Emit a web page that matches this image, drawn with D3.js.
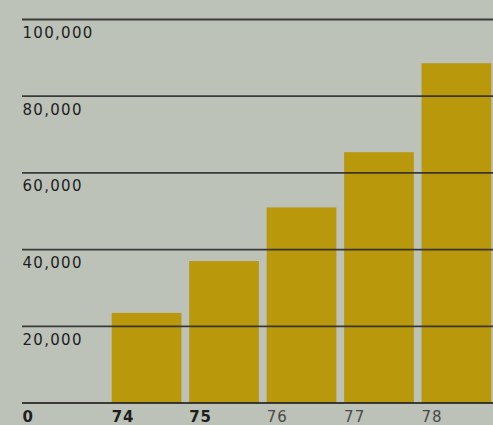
<!DOCTYPE html>
<html><head><meta charset="utf-8">
<script src="https://cdn.jsdelivr.net/npm/d3@7"></script>
<style>html,body{margin:0;padding:0;background:#bcc2b8;}svg{display:block;}</style>
</head><body>
<svg id="c" width="493" height="425"></svg>
<script>
const years = ["74","75","76","77","78"];
const values = [23500, 37000, 51000, 65400, 88600];
const yTicks = [0, 20000, 40000, 60000, 80000, 100000];
const yTickLabels = ["0","20,000","40,000","60,000","80,000","100,000"];
const yearLabelStyle = ["bold","bold","normal","normal","normal"];

const W = 493, H = 425;
const svg = d3.select("#c");
svg.append("rect").attr("width", W).attr("height", H).attr("fill", "#bcc2b8");

const y = d3.scaleLinear().domain([0, 100000]).range([403, 19.5]);
const x = d3.scaleBand().domain(years).range([111.7, 491.3]).paddingInner(0.1).paddingOuter(0);

svg.selectAll("rect.bar").data(values).enter().append("rect")
  .attr("class","bar")
  .attr("x", (d,i) => x(years[i]))
  .attr("width", x.bandwidth())
  .attr("y", d => y(d))
  .attr("height", d => y(0) - y(d))
  .attr("fill", "#b9980b");

svg.selectAll("line.grid").data(yTicks).enter().append("line")
  .attr("class","grid")
  .attr("x1", 22).attr("x2", W)
  .attr("y1", d => y(d)).attr("y2", d => y(d))
  .attr("stroke", "#2b2b2b").attr("stroke-width", 1.8).attr("stroke-opacity", 0.9);

svg.selectAll("text.yl").data(yTicks).enter().append("text")
  .attr("class","yl")
  .attr("x", 22.5)
  .attr("y", (d,i) => y(d) + 18.5)
  .attr("font-family", "DejaVu Sans, sans-serif")
  .attr("font-size", 15)
  .attr("font-weight", (d,i) => i === 0 ? "bold" : "normal")
  .attr("letter-spacing", 1.3)
  .attr("fill", "#1e1e1e")
  .text((d,i) => yTickLabels[i]);

svg.selectAll("text.xl").data(years).enter().append("text")
  .attr("class","xl")
  .attr("x", d => x(d))
  .attr("y", y(0) + 18.5)
  .attr("font-family", "DejaVu Sans, sans-serif")
  .attr("font-size", 15)
  .attr("font-weight", (d,i) => yearLabelStyle[i])
  .attr("letter-spacing", 1)
  .attr("fill", (d,i) => yearLabelStyle[i] === "bold" ? "#1e1e1e" : "#4a4a4a")
  .text(d => d);
</script>
</body></html>
